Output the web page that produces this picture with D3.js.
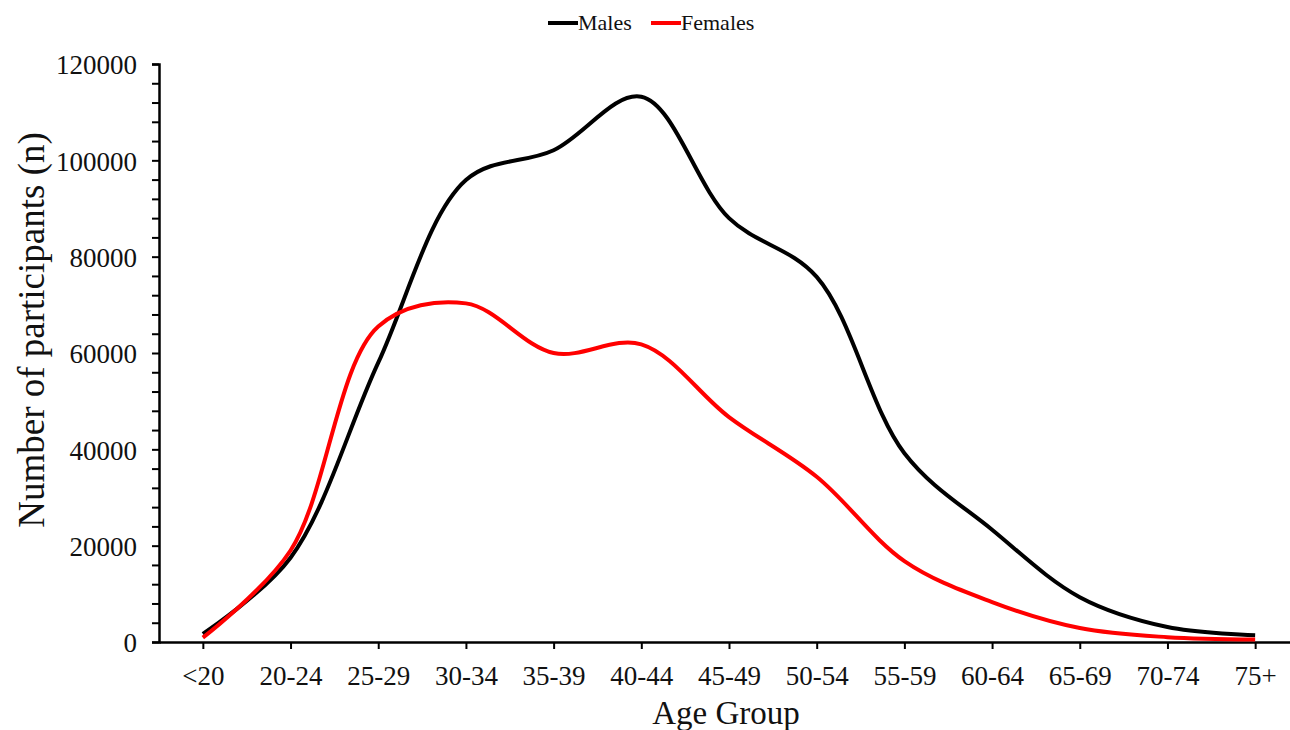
<!DOCTYPE html>
<html><head><meta charset="utf-8">
<script src="https://cdn.jsdelivr.net/npm/d3@7"></script>
<style>body{margin:0;background:#fff}svg{display:block}text{font-family:"Liberation Serif","Times New Roman",serif;fill:#111}</style>
</head><body><svg id="c" width="1290" height="730"></svg>
<script>
const categories = ["<20","20-24","25-29","30-34","35-39","40-44","45-49","50-54","55-59","60-64","65-69","70-74","75+"];
const males   = [1700, 17500, 58000, 95900, 102100, 113200, 88000, 75800, 39200, 23300, 9300, 3100, 1400];
const females = [900, 19000, 65500, 70300, 60000, 61800, 46700, 34300, 16800, 8300, 2900, 1000, 500];
const yTicks = [0, 20000, 40000, 60000, 80000, 100000, 120000];
const seriesNames = ["Males", "Females"];
const seriesColors = ["#000000", "#ff0000"];

const svg = d3.select("#c");
const x = d3.scalePoint().domain(categories).range([159, 1299]).padding(0.5);
const y = d3.scaleLinear().domain([0, 120000]).range([642, 64]);

// y axis with minor ticks every 4000
const minor = d3.range(0, 120001, 4000);
const yAxis = d3.axisLeft(y).tickValues(minor).tickSize(7).tickFormat(d => yTicks.includes(d) ? d : "");
const gy = svg.append("g").attr("transform", "translate(159,0)").call(yAxis);
gy.attr("font-family", null);
gy.select(".domain").attr("stroke", "#000").attr("stroke-width", 2.5);
gy.selectAll(".tick line").attr("stroke", "#000").attr("stroke-width", 2);
gy.selectAll(".tick text").attr("font-size", 27).attr("x", -22).attr("dy", "0.36em").attr("fill", "#111");

const xAxis = d3.axisBottom(x).tickSize(7).tickSizeOuter(0);
const gx = svg.append("g").attr("transform", "translate(0,642)").call(xAxis);
gx.attr("font-family", null);
gx.select(".domain").attr("stroke", "#000").attr("stroke-width", 2.5);
gx.selectAll(".tick line").attr("stroke", "#000").attr("stroke-width", 2);
gx.selectAll(".tick text").attr("font-size", 27).attr("y", 43).attr("dy", null).attr("fill", "#111");

const line = d3.line().x((d, i) => x(categories[i])).y(d => y(d)).curve(d3.curveCatmullRom.alpha(0.5));
[males, females].forEach((s, k) => {
  svg.append("path").datum(s).attr("d", line).attr("fill", "none")
    .attr("stroke", seriesColors[k]).attr("stroke-width", 4).attr("stroke-linejoin", "round");
});

// axis titles
svg.append("text").attr("x", 726).attr("y", 724).attr("text-anchor", "middle").attr("font-size", 33).text("Age Group");
svg.append("text").attr("transform", "translate(44,330) rotate(-90)").attr("text-anchor", "middle").attr("font-size", 37).text("Number of participants (n)");

// legend
const lg = svg.append("g");
const legendX = [548, 651];
seriesNames.forEach((n, k) => {
  lg.append("line").attr("x1", legendX[k]).attr("x2", legendX[k] + 30).attr("y1", 23).attr("y2", 23)
    .attr("stroke", seriesColors[k]).attr("stroke-width", 4);
  lg.append("text").attr("x", legendX[k] + 30).attr("y", 30).attr("font-size", 22).text(n);
});
</script></body></html>
